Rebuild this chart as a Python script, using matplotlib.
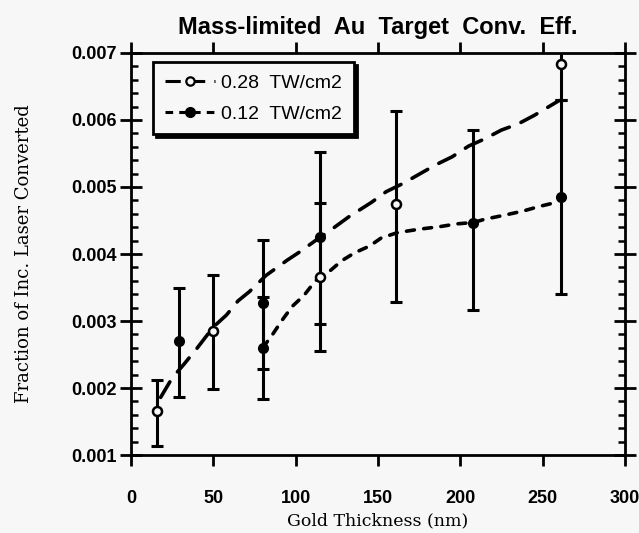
import numpy as np
import matplotlib
matplotlib.use("Agg")
import matplotlib.pyplot as plt
from matplotlib.ticker import MultipleLocator, FormatStrFormatter

# measured points, 0.28 TW/cm2 (open symbols)
x_hi = [16, 50, 115, 161, 261]
y_hi = [0.00165, 0.00285, 0.00365, 0.00474, 0.00684]
lo_hi = [0.00114, 0.00199, 0.00255, 0.00329, 0.00630]
up_hi = [0.00212, 0.00369, 0.00476, 0.00614, 0.00740]

# measured points, 0.12 TW/cm2 (filled symbols)
x_lo = [29, 80, 80, 115, 208, 261]
y_lo = [0.00270, 0.00327, 0.00260, 0.00426, 0.00447, 0.00485]
lo_lo = [0.00187, 0.00228, 0.00183, 0.00296, 0.00316, 0.00340]
up_lo = [0.00349, 0.00421, 0.00336, 0.00552, 0.00585, 0.00630]

# fitted trends
fit_hi_x = [18, 25, 32, 40, 50, 58, 65, 72, 82, 95, 103, 112, 122, 132, 146,
            155, 165, 175, 185, 195, 205, 215, 225, 235, 245, 260]
fit_hi_y = [0.00186, 0.00215, 0.00235, 0.00259, 0.00291, 0.00309, 0.00330,
            0.00344, 0.00368, 0.00391, 0.00404, 0.00420, 0.00437, 0.00455,
            0.00477, 0.00493, 0.00505, 0.00519, 0.00533, 0.00545, 0.00561,
            0.00572, 0.00585, 0.00594, 0.00607, 0.00629]
fit_lo_x = [80, 86, 92, 98, 105, 112, 120, 128, 136, 145, 152, 162, 175, 188,
            198, 208, 215, 225, 238, 248, 260]
fit_lo_y = [0.00260, 0.00280, 0.00302, 0.00322, 0.00338, 0.00360, 0.00373,
            0.00390, 0.00402, 0.00412, 0.00424, 0.00432, 0.00437, 0.00441,
            0.00445, 0.00447, 0.00452, 0.00457, 0.00464, 0.00471, 0.00478]

bg = "#f7f7f7"
fig = plt.figure(figsize=(6.39, 5.33), dpi=100, facecolor=bg)
ax = fig.add_axes([0.205, 0.1463, 0.773, 0.7543], facecolor=bg)

y_hi_a = np.array(y_hi)
y_lo_a = np.array(y_lo)
err_hi = [y_hi_a - np.array(lo_hi), np.array(up_hi) - y_hi_a]
err_lo = [y_lo_a - np.array(lo_lo), np.array(up_lo) - y_lo_a]

ax.errorbar(x_hi, y_hi, yerr=err_hi, fmt="none", ecolor="black",
            elinewidth=2.2, capsize=4.5, capthick=2.2)
ax.errorbar(x_lo, y_lo, yerr=err_lo, fmt="none", ecolor="black",
            elinewidth=2.2, capsize=4.5, capthick=2.2)

ax.plot(fit_hi_x, fit_hi_y, color="black", lw=2.6, dashes=(5, 3.5),
        dash_capstyle="round")
ax.plot(fit_lo_x, fit_lo_y, color="black", lw=2.6, dashes=(2.2, 2.6),
        dash_capstyle="round")

ax.plot(x_hi, y_hi, "o", ms=6.5, mfc=bg, mec="black", mew=1.8)
ax.plot(x_lo, y_lo, "o", ms=7, mfc="black", mec="black")

# legend handles
h1, = ax.plot([], [], color="black", lw=2.2, dashes=(5, 3), marker="o",
              ms=6, mfc=bg, mec="black", mew=1.6)
h2, = ax.plot([], [], color="black", lw=2.2, dashes=(2.5, 2), marker="o",
              ms=7, mfc="black", mec="black")
leg = ax.legend([h1, h2], ["0.28  TW/cm2", "0.12  TW/cm2"],
                loc="upper left", bbox_to_anchor=(0.045, 0.977),
                borderaxespad=0, frameon=True, fancybox=False,
                shadow={"color": "black", "alpha": 1},
                prop={"family": "Liberation Sans", "size": 14},
                handlelength=2.6, handletextpad=0.3, labelspacing=0.7,
                borderpad=0.6)
leg.get_frame().set_edgecolor("black")
leg.get_frame().set_linewidth(2)
leg.get_frame().set_facecolor(bg)

ax.set_xlim(0, 300)
ax.set_ylim(0.001, 0.007)
ax.xaxis.set_major_locator(MultipleLocator(50))
ax.yaxis.set_major_locator(MultipleLocator(0.001))
ax.yaxis.set_minor_locator(MultipleLocator(0.0002))
ax.yaxis.set_major_formatter(FormatStrFormatter("%.3f"))

for s in ax.spines.values():
    s.set_linewidth(2)

ax.tick_params(axis="x", which="major", direction="out", length=8, width=2,
               top=True, bottom=True, pad=17)
ax.tick_params(axis="y", which="major", direction="inout", length=16, width=2,
               left=True, right=True, pad=2)
ax.tick_params(axis="y", which="minor", direction="in", length=5, width=1.8,
               left=True, right=True)
for lab in ax.get_xticklabels() + ax.get_yticklabels():
    lab.set_fontfamily("Liberation Sans")
    lab.set_fontweight("bold")
    lab.set_fontsize(13)

ax.set_title("Mass-limited  Au  Target  Conv.  Eff.", family="Liberation Sans",
             fontweight="bold", fontsize=17, pad=14)
ax.set_xlabel("Gold Thickness (nm)", family="DejaVu Serif", fontsize=12.5,
              labelpad=4)
ax.set_ylabel("Fraction of Inc. Laser Converted", family="DejaVu Serif",
              fontsize=13, labelpad=28)

fig.savefig("out.png", dpi=100, facecolor=bg)
